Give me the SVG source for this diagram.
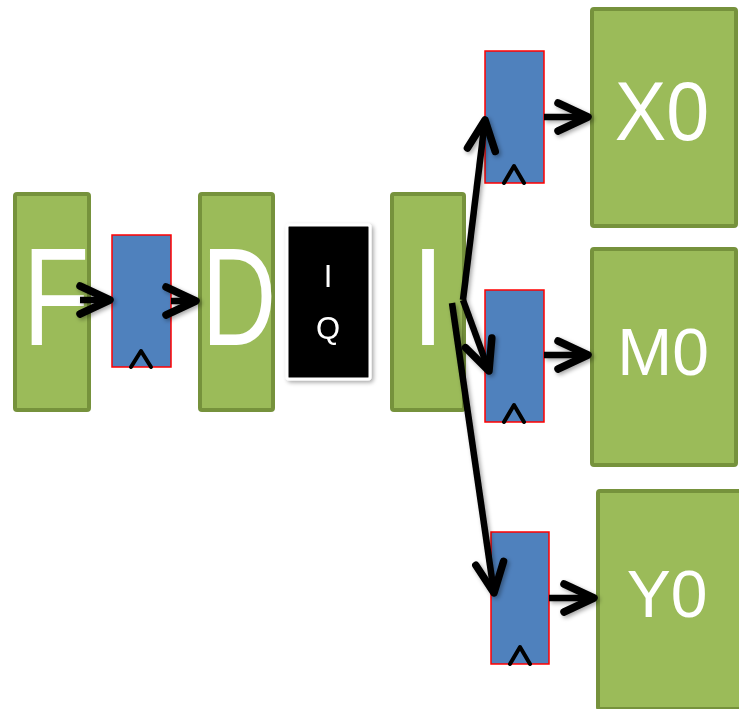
<svg xmlns="http://www.w3.org/2000/svg" width="739" height="709" viewBox="0 0 739 709">
<defs>
<style>
.stage{fill:#9BBB59;stroke:#76923C;stroke-width:4}
.reg{fill:#4F81BD;stroke:#FF0000;stroke-width:1.5}
.clk{fill:none;stroke:#000;stroke-width:4;stroke-linecap:round;stroke-linejoin:round}
.big{font-family:"Liberation Sans",Arial,sans-serif;fill:#fff;text-anchor:middle}
.wire{fill:none;stroke:#000;stroke-width:6.5;marker-end:url(#arr)}
</style>
<marker id="arr" markerUnits="userSpaceOnUse" viewBox="-40 -20 44 40" refX="0" refY="0" markerWidth="44" markerHeight="40" orient="auto">
<path d="M-30,-14 L0,0 L-30,14" fill="none" stroke="#000" stroke-width="7.5" stroke-linecap="round" stroke-linejoin="round"/>
</marker>
<filter id="sh" filterUnits="userSpaceOnUse" x="0" y="0" width="739" height="709">
<feDropShadow dx="2" dy="2" stdDeviation="2" flood-color="#000" flood-opacity="0.35"/>
</filter>
</defs>
<rect width="739" height="709" fill="#fff"/>

<g id="F">
<rect class="stage" x="15" y="194" width="74" height="216" rx="2"/>
<text class="big" transform="translate(56,345) scale(0.78,1)" font-size="140">F</text>
</g>
<g id="reg1">
<rect class="reg" x="112" y="235" width="59" height="132"/>
<path class="clk" d="M131,367 L141,351 L151,367"/>
</g>
<g id="D">
<rect class="stage" x="200" y="194" width="73" height="216" rx="2"/>
<text class="big" transform="translate(239,345) scale(0.74,1)" font-size="140">D</text>
</g>
<g id="IQ" filter="url(#sh)">
<rect x="287" y="225" width="83" height="154" rx="2" fill="#000" stroke="#fff" stroke-width="3"/>
<text class="big" x="328" y="287" font-size="31">I</text>
<text class="big" x="328" y="339" font-size="31">Q</text>
</g>
<g id="I">
<rect class="stage" x="392" y="194" width="72" height="216" rx="2"/>
<text class="big" transform="translate(428,345) scale(0.9,1)" font-size="140">I</text>
</g>
<g id="regX">
<rect class="reg" x="485" y="51" width="59" height="132"/>
<path class="clk" d="M504,183 L514,166 L524,183"/>
</g>
<g id="X0">
<rect class="stage" x="592" y="9" width="144" height="217" rx="2"/>
<text class="big" transform="translate(662,140) scale(0.92,1)" font-size="84">X0</text>
</g>
<g id="regM">
<rect class="reg" x="485" y="290" width="59" height="132"/>
<path class="clk" d="M504,422 L514,405 L524,422"/>
</g>
<g id="M0">
<rect class="stage" x="592" y="249" width="144" height="216" rx="2"/>
<text class="big" x="663" y="375" font-size="66">M0</text>
</g>
<g id="regY">
<rect class="reg" x="491" y="532" width="58" height="132"/>
<path class="clk" d="M510,664 L520,647 L530,664"/>
</g>
<g id="Y0">
<rect class="stage" x="598" y="491" width="145" height="218" rx="2"/>
<text class="big" x="667" y="617" font-size="66">Y0</text>
</g>

<g id="connectors" filter="url(#sh)">
<line class="wire" x1="80" y1="300" x2="110" y2="300"/>
<line class="wire" x1="171" y1="301" x2="196" y2="301"/>
<line class="wire" x1="463" y1="300" x2="485" y2="120"/>
<line class="wire" x1="463" y1="300" x2="489" y2="371"/>
<line class="wire" x1="452" y1="303" x2="494" y2="593"/>
<line class="wire" x1="544" y1="117" x2="588" y2="117"/>
<line class="wire" x1="544" y1="355" x2="588" y2="355"/>
<line class="wire" x1="549" y1="598" x2="594" y2="598"/>
</g>
</svg>
